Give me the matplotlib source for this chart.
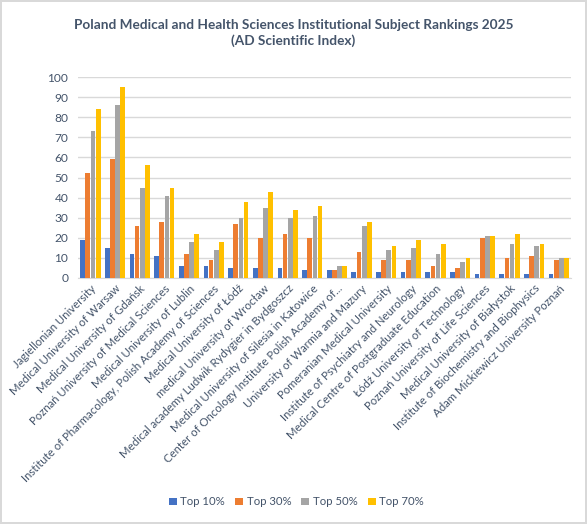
import matplotlib
matplotlib.use("Agg")
import matplotlib.pyplot as plt
import numpy as np

institutions = [
    "Jagiellonian University",
    "Medical University of Warsaw",
    "Medical University of Gdańsk",
    "Poznań University of Medical Sciences",
    "Medical University of Lublin",
    "Institute of Pharmacology, Polish Academy of Sciences",
    "Medical University of Łódź",
    "medical University of Wrocław",
    "Medical academy Ludwik Rydygier in Bydgoszcz",
    "Medical University of Silesia in Katowice",
    "Center of Oncology Institute Polish Academy of...",
    "University of Warmia and Mazury",
    "Pomeranian Medical University",
    "Institute of Psychiatry and Neurology",
    "Medical Centre of Postgraduate Education",
    "Łódź University of Technology",
    "Poznań University of Life Sciences",
    "Medical University of Białystok",
    "Institute of Biochemistry and Biophysics",
    "Adam Mickiewicz University Poznań",
]
top10 = [19, 15, 12, 11, 6, 6, 5, 5, 5, 4, 4, 3, 3, 3, 3, 3, 2, 2, 2, 2]
top30 = [52, 59, 26, 28, 12, 9, 27, 20, 22, 20, 4, 13, 9, 9, 6, 5, 20, 10, 11, 9]
top50 = [73, 86, 45, 41, 18, 14, 30, 35, 30, 31, 6, 26, 14, 15, 12, 8, 21, 17, 16, 10]
top70 = [84, 95, 56, 45, 22, 18, 38, 43, 34, 36, 6, 28, 16, 19, 17, 10, 21, 22, 17, 10]

series_names = ["Top 10%", "Top 30%", "Top 50%", "Top 70%"]
colors = ["#4472C4", "#ED7D31", "#A5A5A5", "#FFC000"]
text_color = "#44546A"

plt.rcParams['font.family'] = ['Lato', 'DejaVu Sans']

fig = plt.figure(figsize=(5.87, 5.24), dpi=100)
fig.patch.set_edgecolor("#D9D9D9")
fig.patch.set_linewidth(1.5)
ax = fig.add_axes([0.133, 0.4695, 0.840, 0.3835])

x = np.arange(len(institutions))
width = 0.19
step = 0.21
for i, (vals, name, col) in enumerate(zip([top10, top30, top50, top70], series_names, colors)):
    ax.bar(x + (i - 1.5) * step, vals, width, color=col, label=name, zorder=3)

ax.set_xlim(-0.5, len(institutions) - 0.5)
ax.set_ylim(0, 100)
ax.set_yticks(range(0, 101, 10))
ax.grid(axis='y', color="#D9D9D9", linewidth=1, zorder=0)
for s in ['top', 'right', 'left']:
    ax.spines[s].set_visible(False)
ax.spines['bottom'].set_color("#D9D9D9")
ax.tick_params(axis='both', length=0, labelcolor=text_color, labelsize=8.2)
ax.tick_params(axis='y', pad=7, labelsize=8.6)
ax.set_xticks(x)
ax.set_xticklabels(institutions, rotation=45, ha='right', rotation_mode='anchor')

fig.text(0.5, 0.937, "Poland Medical and Health Sciences Institutional Subject Rankings 2025\n(AD Scientific Index)",
         ha='center', va='center', fontsize=9.8, fontweight='bold', color=text_color, linespacing=1.35)

fig.legend(loc='center', bbox_to_anchor=(0.505, 0.042), ncol=4, frameon=False,
           fontsize=8.2, labelcolor=text_color, handlelength=0.7, handleheight=0.7,
           handletextpad=0.3, columnspacing=0.9)

fig.savefig("out.png", dpi=100)
